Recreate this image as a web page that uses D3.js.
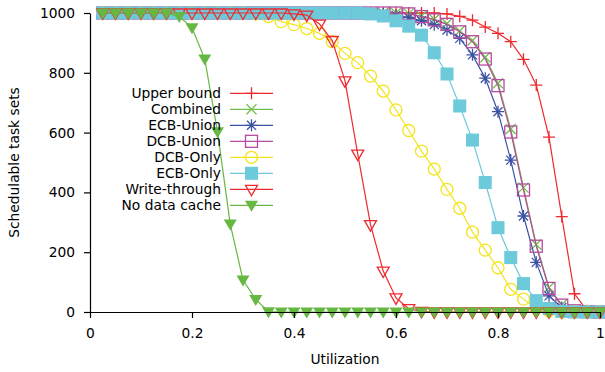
<!DOCTYPE html>
<html>
<head>
<meta charset="utf-8">
<script src="https://cdn.jsdelivr.net/npm/d3@7"></script>
<style>
  html, body { margin: 0; padding: 0; background: #fff; }
  svg { display: block; }
  text { font-family: "DejaVu Sans", sans-serif; fill: #000; }
</style>
</head>
<body>
<div id="chart"></div>
<script>
// Utilization steps 0.025 .. 1.0
const utilization = d3.range(1, 41).map(k => +(k * 0.025).toFixed(3));

const xTicks = [0, 0.2, 0.4, 0.6, 0.8, 1];
const yTicks = [0, 200, 400, 600, 800, 1000];

const seriesNames = ["Upper bound", "Combined", "ECB-Union", "DCB-Union",
                     "DCB-Only", "ECB-Only", "Write-through", "No data cache"];

const upperBound = [1000,1000,1000,1000,1000,1000,1000,1000,1000,1000,
                    1000,1000,1000,1000,1000,1000,1000,1000,1000,1000,
                    1000,1000,1000,1000,1000,1000,1000,997,989,976,
                    953,932,904,845,759,585,319,61,4,0];
const combined   = [1000,1000,1000,1000,1000,1000,1000,1000,1000,1000,
                    1000,1000,1000,1000,1000,1000,1000,1000,1000,1000,
                    1000,1000,1000,1000,998,990,979,965,940,908,
                    852,765,612,416,226,82,24,5,1,0];
const ecbUnion   = [1000,1000,1000,1000,1000,1000,1000,1000,1000,1000,
                    1000,1000,1000,1000,1000,1000,1000,1000,1000,1000,
                    1000,1000,997,992,985,974,961,943,915,860,
                    782,670,508,321,166,54,15,3,0,0];
const dcbUnion   = [1000,1000,1000,1000,1000,1000,1000,1000,1000,1000,
                    1000,1000,1000,1000,1000,1000,1000,1000,1000,1000,
                    1000,1000,1000,1000,997,988,977,962,937,904,
                    846,757,602,408,220,79,23,4,1,0];
const dcbOnly    = [1000,1000,1000,1000,1000,1000,1000,1000,1000,1000,
                    1000,1000,997,988,971,961,948,932,904,865,
                    834,789,739,676,607,538,478,410,347,267,
                    207,148,76,43,12,3,0,0,0,0];
const ecbOnly    = [1000,1000,1000,1000,1000,1000,1000,1000,1000,1000,
                    1000,1000,1000,1000,1000,1000,1000,1000,1000,1000,
                    1000,997,990,974,956,926,867,796,689,575,
                    433,282,182,95,38,12,2,0,0,0];
const writeThrough = [1000,1000,1000,1000,1000,1000,1000,1000,1000,1000,
                    1000,1000,1000,1000,1000,997,993,963,908,773,
                    528,292,137,47,11,2,0,0,0,0,
                    0,0,0,0,0,0,0,0,0,0];
const noDataCache = [1000,1000,1000,1000,1000,1000,988,951,846,603,
                    294,107,42,1,0,0,0,0,0,0,
                    0,0,0,0,0,0,0,0,0,0,
                    0,0,0,0,0,0,0,0,0,0];

const seriesValues = [upperBound, combined, ecbUnion, dcbUnion,
                      dcbOnly, ecbOnly, writeThrough, noDataCache];

// Style per series: line colour and point glyph
const styles = [
  { color: "#ee2a2f", marker: "plus" },
  { color: "#72bf4b", marker: "cross" },
  { color: "#3a52a3", marker: "star" },
  { color: "#b64a9f", marker: "squareOpen" },
  { color: "#f3e41c", marker: "circleOpen" },
  { color: "#6ccadb", marker: "squareFilled" },
  { color: "#ee2a2f", marker: "triOpen" },
  { color: "#67b843", marker: "triFilled" }
];

const W = 605, H = 372;
const svg = d3.select("#chart").append("svg").attr("width", W).attr("height", H);

const x = d3.scaleLinear().domain([0, 1]).range([90, 600]);
const y = d3.scaleLinear().domain([0, 1000]).range([312, 13]);

function drawMarker(sel, type, color) {
  const sw = 1.3;
  if (type === "plus") {
    sel.append("path").attr("d", "M-6,0H6M0,-6V6")
      .attr("stroke", color).attr("stroke-width", sw).attr("fill", "none");
  } else if (type === "cross") {
    sel.append("path").attr("d", "M-5,-5L5,5M-5,5L5,-5")
      .attr("stroke", color).attr("stroke-width", sw).attr("fill", "none");
  } else if (type === "star") {
    sel.append("path").attr("d", "M-6,0H6M0,-6V6M-4.5,-4.5L4.5,4.5M-4.5,4.5L4.5,-4.5")
      .attr("stroke", color).attr("stroke-width", sw).attr("fill", "none");
  } else if (type === "squareOpen") {
    sel.append("rect").attr("x", -6).attr("y", -6).attr("width", 12).attr("height", 12)
      .attr("stroke", color).attr("stroke-width", sw).attr("fill", "none");
  } else if (type === "squareFilled") {
    sel.append("rect").attr("x", -6.5).attr("y", -6.5).attr("width", 13).attr("height", 13)
      .attr("fill", color);
  } else if (type === "circleOpen") {
    sel.append("circle").attr("r", 6)
      .attr("stroke", color).attr("stroke-width", sw).attr("fill", "none");
  } else if (type === "triOpen") {
    sel.append("path").attr("d", "M-6,-4L6,-4L0,6.5Z")
      .attr("stroke", color).attr("stroke-width", sw).attr("fill", "none");
  } else if (type === "triFilled") {
    sel.append("path").attr("d", "M-6.5,-4.5L6.5,-4.5L0,6.5Z")
      .attr("fill", color);
  }
}

const line = d3.line().x(d => x(d[0])).y(d => y(d[1]));

// Data series: earlier series underneath later ones
seriesValues.forEach((vals, i) => {
  const st = styles[i];
  const pts = utilization.map((u, j) => [u, vals[j]]);
  const g = svg.append("g").attr("class", "series");
  g.append("path").datum(pts).attr("d", line)
    .attr("fill", "none").attr("stroke", st.color).attr("stroke-width", 1.2);
  pts.forEach(p => {
    const m = g.append("g").attr("transform", `translate(${x(p[0])},${y(p[1])})`);
    drawMarker(m, st.marker, st.color);
  });
});

// Legend
const legend = svg.append("g").attr("class", "legend");
seriesNames.forEach((name, i) => {
  const cy = 93.3 + 16 * i;
  const st = styles[i];
  legend.append("text").attr("x", 221).attr("y", cy + 5)
    .attr("text-anchor", "end").attr("font-size", 13.8).text(name);
  legend.append("line").attr("x1", 230).attr("x2", 273).attr("y1", cy).attr("y2", cy)
    .attr("stroke", st.color).attr("stroke-width", 1.2);
  const m = legend.append("g").attr("transform", `translate(251.5,${cy})`);
  drawMarker(m, st.marker, st.color);
});

// Axes
const fmt = d => (d === 0 ? "0" : d === 1 ? "1" : d3.format(".1f")(d));
const xAxis = svg.append("g").attr("transform", "translate(0,312)")
  .call(d3.axisBottom(x).tickValues(xTicks).tickFormat(fmt)
        .tickSize(6).tickSizeOuter(0).tickPadding(10));
const yAxis = svg.append("g").attr("transform", "translate(90,0)")
  .call(d3.axisLeft(y).tickValues(yTicks).tickFormat(d3.format("d"))
        .tickSize(6).tickSizeOuter(0).tickPadding(9));
[xAxis, yAxis].forEach(a => {
  a.selectAll("text").attr("font-family", "DejaVu Sans, sans-serif")
    .attr("font-size", 13.8).attr("fill", "#000");
  a.selectAll("line, path").attr("stroke", "#000").attr("stroke-width", 1.2);
});

svg.append("text").attr("x", 345).attr("y", 364).attr("text-anchor", "middle")
  .attr("font-size", 13.8).text("Utilization");
svg.append("text").attr("transform", "translate(19,162.5) rotate(-90)")
  .attr("text-anchor", "middle").attr("font-size", 13.8).text("Schedulable task sets");
</script>
</body>
</html>
